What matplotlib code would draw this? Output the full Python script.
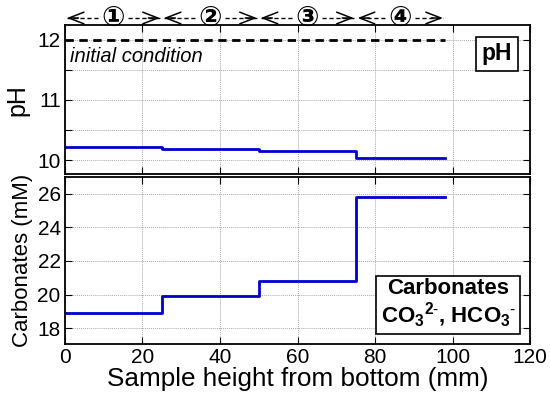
import matplotlib
matplotlib.use("Agg")
import matplotlib.pyplot as plt
import matplotlib.transforms as mtransforms

plt.rcParams['font.family'] = ['Liberation Sans', 'DejaVu Sans', 'Noto Sans CJK JP']
plt.rcParams['mathtext.fontset'] = 'custom'
plt.rcParams['mathtext.rm'] = 'Liberation Sans'
plt.rcParams['mathtext.bf'] = 'Liberation Sans:bold'

# data
edges = [0, 25, 50, 75, 98]
ph_values = [10.22, 10.19, 10.15, 10.03]
carb_values = [18.9, 19.9, 20.8, 25.8]
initial_ph = 12.0
zone_labels = ['①', '②', '③', '④']
x_ticks = [0, 20, 40, 60, 80, 100, 120]

def steps(edges, vals):
    xs, ys = [], []
    for i, v in enumerate(vals):
        xs += [edges[i], edges[i+1]]
        ys += [v, v]
    return xs, ys

fig = plt.figure(figsize=(5.5, 3.98), dpi=100)
ax1 = fig.add_axes([0.118, 0.5616, 0.846, 0.3744])
ax2 = fig.add_axes([0.118, 0.1357, 0.846, 0.4193])

for ax in (ax1, ax2):
    ax.set_xlim(0, 120)
    ax.set_xticks(x_ticks)
    ax.grid(True, color='#aaaaaa', linestyle=(0, (1, 1)), linewidth=0.7)
    ax.tick_params(direction='in', top=True, right=True, labelsize=15, length=5, pad=3)
    for s in ax.spines.values():
        s.set_linewidth(1.3)

# pH panel
xs, ys = steps(edges, ph_values)
ax1.plot(xs, ys, color='#0000cc', lw=2)
ax1.plot([edges[0], edges[-1]], [initial_ph, initial_ph], color='black', lw=2, linestyle=(0, (3, 2)))
ax1.set_ylim(9.76, 12.24)
ax1.set_yticks([10, 10.5, 11, 11.5, 12])
ax1.set_yticklabels(['10', '', '11', '', '12'])
ax1.set_xticklabels([])
ax1.set_ylabel('pH', fontsize=18, labelpad=6)
ax1.text(1.3, 11.73, 'initial condition', style='italic', fontsize=14.5, va='center', ha='left')
ax1.text(0.928, 0.809, 'pH', transform=ax1.transAxes, fontsize=16.5, fontweight='bold',
         ha='center', va='center',
         bbox=dict(boxstyle='square,pad=0.25', facecolor='white', edgecolor='black', lw=1.2))

# Carbonates panel
xs, ys = steps(edges, carb_values)
ax2.plot(xs, ys, color='#0000cc', lw=2)
ax2.set_ylim(17.05, 27.0)
ax2.set_yticks([18, 20, 22, 24, 26])
ax2.set_xlabel('Sample height from bottom (mm)', fontsize=18.8, labelpad=0)
ax2.set_ylabel('Carbonates (mM)', fontsize=16, labelpad=3)
ax2.text(0.824, 0.24, 'Carbonates\nCO$_\\mathbf{3}$$^\\mathbf{2\\text{-}}$, HCO$_\\mathbf{3}$$^\\mathbf{\\text{-}}$',
         transform=ax2.transAxes, fontsize=16, fontweight='bold', ha='center', va='center',
         multialignment='center', linespacing=1.05,
         bbox=dict(boxstyle='square,pad=0.2', facecolor='white', edgecolor='black', lw=1.2))

# zone arrows above top panel
trans = mtransforms.blended_transform_factory(ax1.transData, fig.transFigure)
yarr = 1 - 18/398
gap = 3.9
for i, lab in enumerate(zone_labels):
    a, b = edges[i], edges[i+1]
    mid = (a + b) / 2
    ax1.text(mid, yarr, lab, transform=trans, ha='center', va='center', fontsize=20,
             fontweight='bold', family=['DejaVu Sans', 'Noto Sans CJK JP'])
    for end, start in ((a + 0.5, mid - gap), (b - 0.5, mid + gap)):
        ax1.plot([start, end], [yarr, yarr], transform=trans, color='black', lw=1,
                 linestyle=(0, (3, 2)), clip_on=False)
        d = 3.0 if end > start else -3.0
        ax1.annotate('', xy=(end, yarr), xycoords=trans, xytext=(end - d, yarr), textcoords=trans,
                     arrowprops=dict(arrowstyle='->,head_length=0.9,head_width=0.35', lw=1.1,
                                     color='black', shrinkA=0, shrinkB=0, mutation_scale=12))

fig.savefig('out.png', dpi=100)
